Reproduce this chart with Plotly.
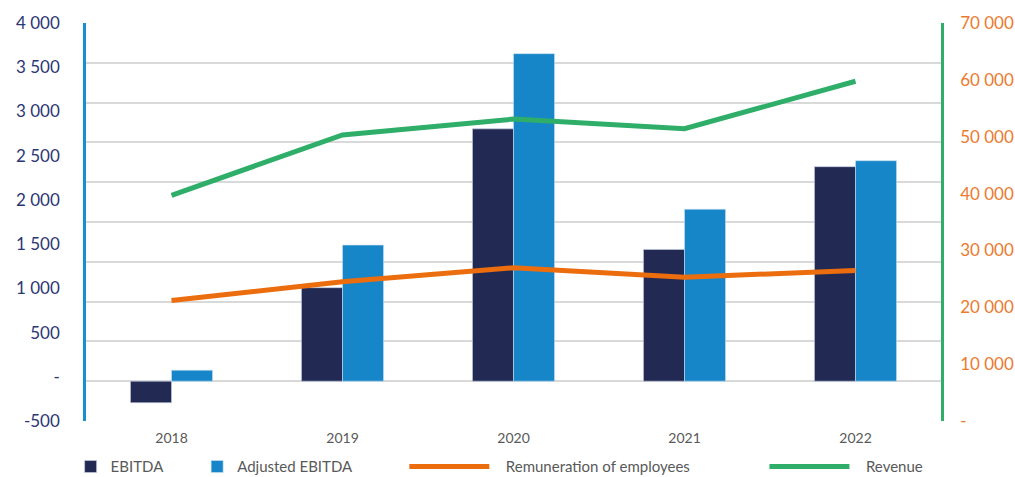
import plotly.graph_objects as go

years = ["2018", "2019", "2020", "2021", "2022"]
ebitda = [-270, 1175, 3170, 1655, 2695]
adj_ebitda = [138, 1710, 4115, 2160, 2770]
remuneration = [21200, 24500, 26950, 25300, 26450]
revenue = [39700, 50300, 53100, 51400, 59750]

left_ticks = [-500, 0, 500, 1000, 1500, 2000, 2500, 3000, 3500, 4000]
left_text = ["-500", "-", "500", "1 000", "1 500", "2 000", "2 500", "3 000", "3 500", "4 000"]
right_ticks = [0, 10000, 20000, 30000, 40000, 50000, 60000, 70000]
right_text = ["-", "10 000", "20 000", "30 000", "40 000", "50 000", "60 000", "70 000"]

FONT = "Lato"
C_EBITDA = "#222A54"
C_ADJ = "#1786C8"
C_REM = "#EC6D0E"
C_REV = "#2EAE69"
PAD = "\u00a0\u00a0\u00a0"

fig = go.Figure()
fig.add_trace(go.Bar(x=years, y=ebitda, name="EBITDA", marker=dict(color=C_EBITDA, line=dict(color="rgba(200,210,230,0.6)", width=1)),
                     legend="legend", yaxis="y"))
fig.add_trace(go.Bar(x=years, y=adj_ebitda, name="Adjusted EBITDA", marker=dict(color=C_ADJ, line=dict(color="rgba(200,225,245,0.6)", width=1)),
                     legend="legend2", yaxis="y"))
fig.add_trace(go.Scatter(x=years, y=remuneration, name=PAD + "Remuneration of employees", mode="lines",
                         line=dict(color=C_REM, width=5), yaxis="y2", legend="legend3"))
fig.add_trace(go.Scatter(x=years, y=revenue, name=PAD + "Revenue", mode="lines",
                         line=dict(color=C_REV, width=5), yaxis="y2", legend="legend4"))
# placeholder (no visible marks) so the left label axis is drawn
fig.add_trace(go.Scatter(x=years, y=[None] * len(years), yaxis="y3", showlegend=False,
                         hoverinfo="skip", mode="lines"))

leg_common = dict(orientation="h", yanchor="middle", y=-0.115, xanchor="left",
                  font=dict(family=FONT, size=15, color="#595959"), bgcolor="rgba(0,0,0,0)")
fig.update_layout(
    width=1015, height=477,
    margin=dict(l=86, r=74, t=23, b=56, autoexpand=False),
    paper_bgcolor="white", plot_bgcolor="white",
    font=dict(family=FONT),
    barmode="group", bargap=0.52, bargroupgap=0,
    legend=dict(x=-0.018, itemwidth=30, **leg_common),
    legend2=dict(x=0.130, itemwidth=30, **leg_common),
    legend3=dict(x=0.3723, itemwidth=80, **leg_common),
    legend4=dict(x=0.7935, itemwidth=80, **leg_common),
    xaxis=dict(showgrid=False, showline=False, zeroline=False, ticks="outside", ticklen=4,
               tickcolor="rgba(0,0,0,0)", tickfont=dict(family=FONT, size=14, color="#595959")),
    yaxis=dict(range=[-500, 4500], dtick=500, tick0=0, showgrid=True, gridcolor="#D9D9D9", gridwidth=1.5,
               zeroline=False, showticklabels=False, showline=False, ticks=""),
    yaxis3=dict(overlaying="y", side="left", range=[-500, 4000], tickvals=left_ticks, ticktext=left_text,
                showgrid=False, zeroline=False, showline=True, linecolor="#1A8FD0", linewidth=2.5,
                ticks="outside", ticklen=20, tickcolor="rgba(0,0,0,0)",
                tickfont=dict(family=FONT, size=17, color="#2B3674")),
    yaxis2=dict(overlaying="y", side="right", range=[0, 70000], tickvals=right_ticks, ticktext=right_text,
                showgrid=False, zeroline=False, showline=True, linecolor=C_REV, linewidth=2.5,
                ticks="outside", ticklen=13, tickcolor="rgba(0,0,0,0)",
                tickfont=dict(family=FONT, size=17, color="#EC7A2E")),
)
fig.write_html("out.html")
